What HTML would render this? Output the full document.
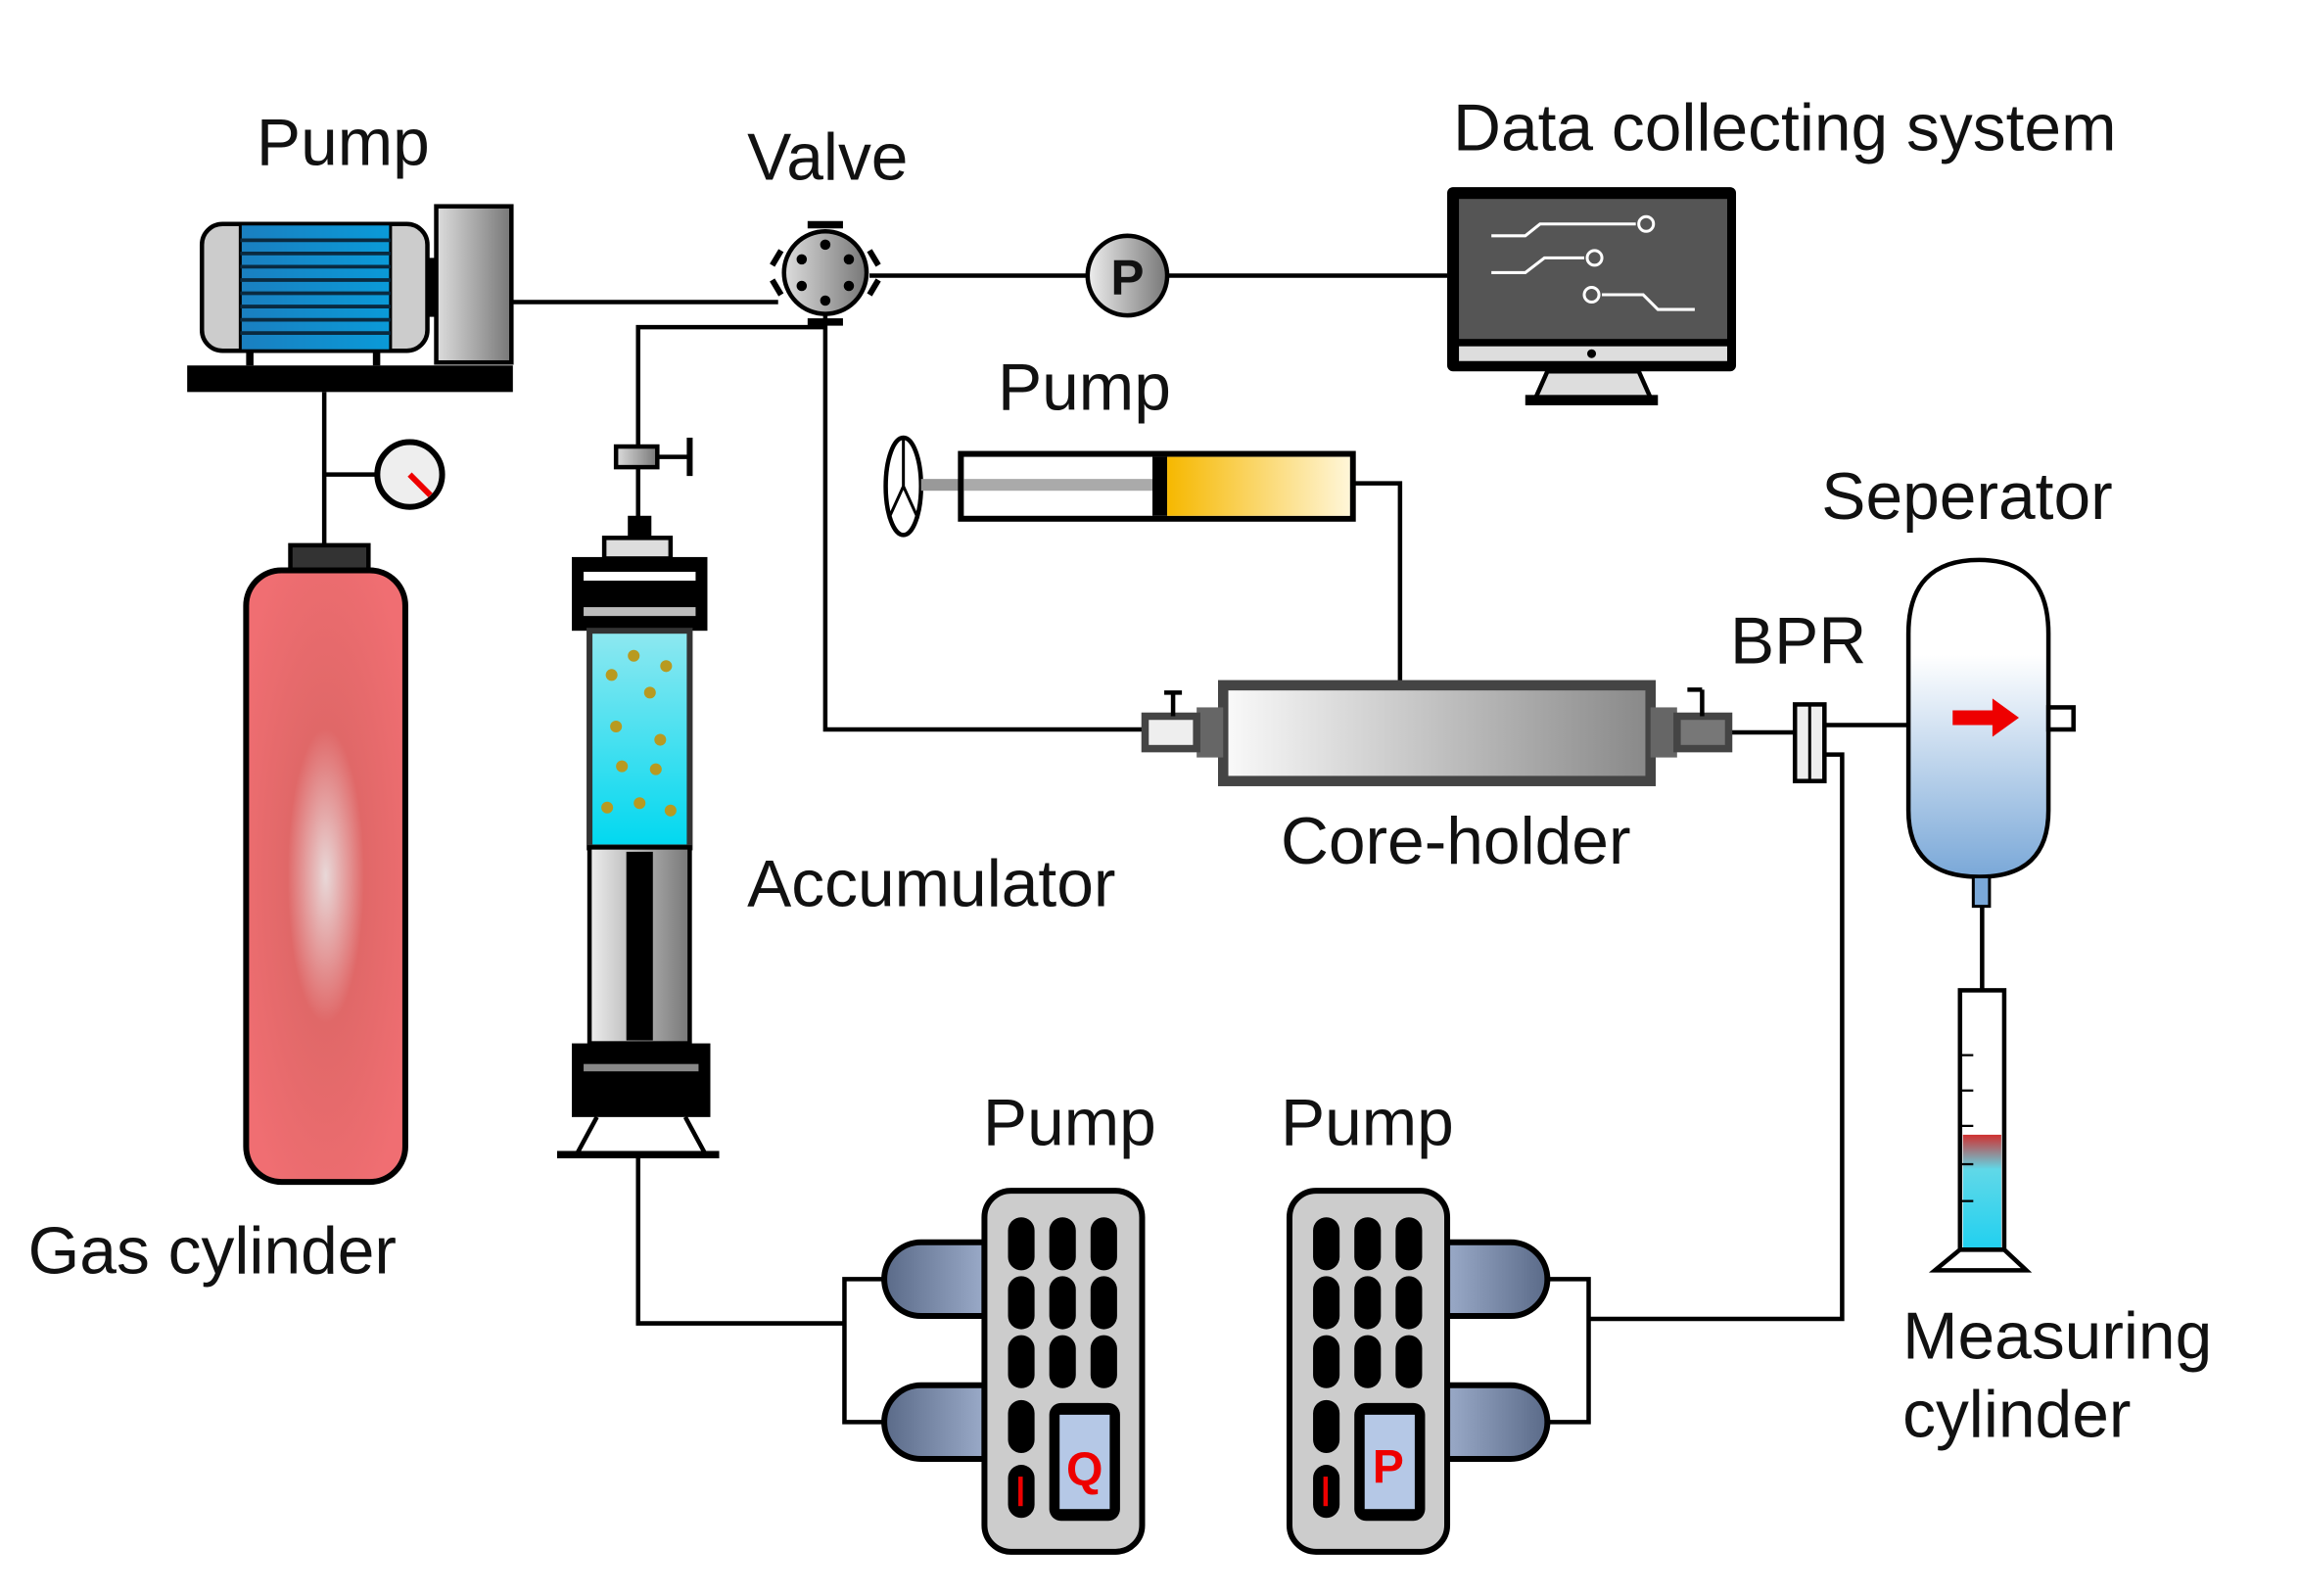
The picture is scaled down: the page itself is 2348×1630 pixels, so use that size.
<!DOCTYPE html>
<html><head><meta charset="utf-8"><style>
html,body{margin:0;padding:0;background:#fff;}
svg{display:block;}
text{font-family:"Liberation Sans",Arial,sans-serif;fill:#111;}
</style></head><body>
<svg width="2348" height="1630" viewBox="0 0 1560 1083" xmlns="http://www.w3.org/2000/svg">
<defs>
<linearGradient id="gray" x1="0" x2="1"><stop offset="0" stop-color="#ddd"/><stop offset="1" stop-color="#777"/></linearGradient>
<linearGradient id="core" x1="0" x2="1"><stop offset="0" stop-color="#fafafa"/><stop offset="1" stop-color="#888"/></linearGradient>
<linearGradient id="blue" x1="0" x2="1"><stop offset="0" stop-color="#1a7fc0"/><stop offset="1" stop-color="#0a9ad8"/></linearGradient>
<linearGradient id="cyan" x1="0" y1="0" x2="0" y2="1"><stop offset="0" stop-color="#8fe8f0"/><stop offset="1" stop-color="#00d8f0"/></linearGradient>
<linearGradient id="sep" x1="0" y1="0" x2="0" y2="1"><stop offset="0.3" stop-color="#fff"/><stop offset="1" stop-color="#7aa8d8"/></linearGradient>
<linearGradient id="yel" x1="0" x2="1"><stop offset="0" stop-color="#f6b800"/><stop offset="1" stop-color="#fff6d8"/></linearGradient>
<linearGradient id="arm" x1="0" x2="1"><stop offset="0" stop-color="#5a6a88"/><stop offset="1" stop-color="#9aaac8"/></linearGradient>
<linearGradient id="arm2" x1="1" x2="0"><stop offset="0" stop-color="#5a6a88"/><stop offset="1" stop-color="#9aaac8"/></linearGradient>
<linearGradient id="rod" x1="0" x2="1"><stop offset="0" stop-color="#eee"/><stop offset="1" stop-color="#777"/></linearGradient>
<radialGradient id="gas" cx="0.5" cy="0.5" r="0.6"><stop offset="0" stop-color="#e8d8d8"/><stop offset="0.4" stop-color="#e06868"/><stop offset="1" stop-color="#f06e72"/></radialGradient>
<linearGradient id="mc" x1="0" y1="0" x2="0" y2="1"><stop offset="0" stop-color="#d03030"/><stop offset="0.3" stop-color="#60d8e8"/><stop offset="1" stop-color="#20d0f0"/></linearGradient>
</defs>
<g stroke="#000" stroke-width="3" fill="none">
<polyline points="347,205 528,205"/>
<polyline points="590,187 738,187"/>
<polyline points="792,187 982,187"/>
<polyline points="433,303 433,222 560,222"/>
<polyline points="560,212 560,495 778,495"/>
<polyline points="433,318 433,352"/>
<polyline points="918,328 950,328 950,465"/>
<polyline points="220,266 220,372"/>
<polyline points="220,322 256,322"/>
<polyline points="1172,497 1218,497"/>
<polyline points="1238,492 1295,492"/>
<polyline points="1238,512 1250,512 1250,895 1078,895"/>
<polyline points="1048,868 1078,868 1078,965 1048,965"/>
<polyline points="433,785 433,898 573,898"/>
<polyline points="600,868 573,868 573,965 600,965"/>
<polyline points="1345,615 1345,700"/>
</g>
<rect x="137" y="152" width="153" height="86" rx="14" fill="#ccc" stroke="#000" stroke-width="3"/>
<rect x="163" y="152" width="102" height="86" fill="url(#blue)" stroke="#000" stroke-width="2"/>
<g stroke="#0a2a40" stroke-width="2.5">
<line x1="163" y1="163" x2="265" y2="163"/><line x1="163" y1="172" x2="265" y2="172"/><line x1="163" y1="181" x2="265" y2="181"/><line x1="163" y1="190" x2="265" y2="190"/><line x1="163" y1="199" x2="265" y2="199"/><line x1="163" y1="208" x2="265" y2="208"/><line x1="163" y1="217" x2="265" y2="217"/><line x1="163" y1="226" x2="265" y2="226"/></g>
<rect x="290" y="175" width="6" height="40" fill="#000"/>
<rect x="296" y="140" width="51" height="106" fill="url(#gray)" stroke="#000" stroke-width="3"/>
<rect x="127" y="248" width="221" height="18" fill="#000"/>
<rect x="167" y="238" width="5" height="10" fill="#000"/><rect x="253" y="238" width="5" height="10" fill="#000"/>
<circle cx="278" cy="322" r="22" fill="#eee" stroke="#000" stroke-width="4"/>
<line x1="278" y1="322" x2="292" y2="336" stroke="#e00" stroke-width="4"/>
<rect x="197" y="370" width="53" height="18" fill="#333" stroke="#000" stroke-width="3"/>
<rect x="167" y="387" width="108" height="415" rx="24" fill="url(#gas)" stroke="#000" stroke-width="4"/>
<circle cx="560" cy="185" r="28" fill="url(#gray)" stroke="#000" stroke-width="3"/>
<g fill="#000"><circle cx="560" cy="166" r="3.5"/><circle cx="560" cy="204" r="3.5"/><circle cx="544" cy="176" r="3.5"/><circle cx="576" cy="176" r="3.5"/><circle cx="544" cy="194" r="3.5"/><circle cx="576" cy="194" r="3.5"/></g>
<rect x="548" y="150" width="24" height="5" fill="#000"/>
<path d="M530 170 L524 180 M590 170 L596 180 M530 200 L524 190 M590 200 L596 190" stroke="#000" stroke-width="4"/>
<rect x="548" y="216" width="24" height="5" fill="#000"/>
<circle cx="765" cy="187" r="27" fill="url(#rod)" stroke="#000" stroke-width="3"/>
<text x="765" y="200" font-size="34" font-weight="bold" text-anchor="middle">P</text>
<rect x="982" y="127" width="196" height="125" rx="4" fill="#000"/>
<rect x="990" y="135" width="182" height="95" fill="#555"/>
<rect x="990" y="235" width="182" height="10" fill="#ddd"/>
<circle cx="1080" cy="240" r="3" fill="#000"/>
<path d="M1050 252 L1112 252 L1120 270 L1042 270 Z" fill="#ddd" stroke="#000" stroke-width="3"/>
<rect x="1035" y="268" width="90" height="7" fill="#000"/>
<g stroke="#fff" stroke-width="2" fill="none">
<polyline points="1012,160 1035,160 1045,152 1110,152"/><circle cx="1117" cy="152" r="5"/>
<polyline points="1012,185 1035,185 1048,175 1075,175"/><circle cx="1082" cy="175" r="5"/>
<circle cx="1080" cy="200" r="5"/><polyline points="1087,200 1115,200 1125,210 1150,210"/></g>
<rect x="418" y="303" width="28" height="14" fill="url(#gray)" stroke="#000" stroke-width="3"/>
<line x1="446" y1="310" x2="468" y2="310" stroke="#000" stroke-width="3"/><line x1="468" y1="297" x2="468" y2="323" stroke="#000" stroke-width="4"/>
<rect x="426" y="350" width="16" height="16" fill="#000"/>
<rect x="410" y="365" width="45" height="14" fill="#ddd" stroke="#000" stroke-width="3"/>
<rect x="388" y="378" width="92" height="50" fill="#000"/>
<rect x="396" y="388" width="76" height="6" fill="#fff"/><rect x="396" y="412" width="76" height="6" fill="#bbb"/>
<rect x="400" y="428" width="68" height="147" fill="url(#cyan)" stroke="#333" stroke-width="4"/>
<g fill="#b89a20"><circle cx="430" cy="445" r="4"/><circle cx="452" cy="452" r="4"/><circle cx="415" cy="458" r="4"/><circle cx="441" cy="470" r="4"/><circle cx="418" cy="493" r="4"/><circle cx="448" cy="502" r="4"/><circle cx="422" cy="520" r="4"/><circle cx="445" cy="522" r="4"/><circle cx="434" cy="545" r="4"/><circle cx="455" cy="550" r="4"/><circle cx="412" cy="548" r="4"/></g>
<rect x="400" y="575" width="68" height="133" fill="url(#rod)" stroke="#000" stroke-width="3"/>
<rect x="425" y="578" width="18" height="128" fill="#000"/>
<rect x="388" y="708" width="94" height="50" fill="#000"/>
<rect x="396" y="722" width="78" height="5" fill="#888"/>
<path d="M405 758 L392 782 M465 758 L478 782" stroke="#000" stroke-width="3"/>
<rect x="378" y="781" width="110" height="5" fill="#000"/>
<ellipse cx="613" cy="330" rx="12" ry="33" fill="#fff" stroke="#000" stroke-width="3"/>
<path d="M613 297 L613 330 L603 352 M613 330 L623 352" stroke="#000" stroke-width="2" fill="none"/>
<rect x="625" y="325" width="160" height="8" fill="#999"/>
<rect x="652" y="308" width="266" height="44" fill="#fff" stroke="#000" stroke-width="4"/>
<rect x="654" y="325" width="128" height="8" fill="#aaa"/>
<rect x="782" y="310" width="10" height="40" fill="#000"/>
<rect x="792" y="310" width="124" height="40" fill="url(#yel)"/>
<rect x="830" y="465" width="290" height="65" fill="url(#core)" stroke="#444" stroke-width="7"/>
<rect x="812" y="480" width="18" height="34" fill="#666"/>
<rect x="777" y="486" width="35" height="22" fill="#eee" stroke="#444" stroke-width="5"/>
<path d="M790 470 L802 470 M796 470 L796 486" stroke="#000" stroke-width="3"/>
<rect x="1120" y="480" width="18" height="34" fill="#666"/>
<rect x="1138" y="486" width="35" height="22" fill="#777" stroke="#444" stroke-width="5"/>
<path d="M1145 468 L1155 468 M1155 468 L1155 486" stroke="#000" stroke-width="3"/>
<rect x="1218" y="478" width="20" height="52" fill="#eee" stroke="#000" stroke-width="3"/>
<line x1="1228" y1="478" x2="1228" y2="530" stroke="#000" stroke-width="2"/>
<path d="M1295 430 Q1295 380 1343 380 Q1390 380 1390 430 L1390 550 Q1390 595 1343 595 Q1295 595 1295 550 Z" fill="url(#sep)" stroke="#000" stroke-width="3"/>
<rect x="1390" y="480" width="17" height="15" fill="#fff" stroke="#000" stroke-width="3"/>
<path d="M1325 482 L1352 482 L1352 474 L1370 487 L1352 500 L1352 492 L1325 492 Z" fill="#e00"/>
<rect x="1339" y="595" width="11" height="20" fill="#7aa8d8" stroke="#000" stroke-width="2"/>
<rect x="1330" y="672" width="30" height="176" fill="#fff" stroke="#000" stroke-width="3"/>
<rect x="1332" y="770" width="26" height="78" fill="url(#mc)"/>
<g stroke="#000" stroke-width="1.5"><line x1="1331" y1="716" x2="1339" y2="716"/><line x1="1331" y1="740" x2="1339" y2="740"/><line x1="1331" y1="764" x2="1339" y2="764"/><line x1="1331" y1="790" x2="1339" y2="790"/><line x1="1331" y1="815" x2="1339" y2="815"/></g>
<path d="M1330 848 L1360 848 L1375 862 L1313 862 Z" fill="#fff" stroke="#000" stroke-width="3"/>
<path d="M668 843 L625 843 A25 25 0 0 0 625 893 L668 893 Z" fill="url(#arm)" stroke="#000" stroke-width="4"/>
<path d="M668 940 L625 940 A25 25 0 0 0 625 990 L668 990 Z" fill="url(#arm)" stroke="#000" stroke-width="4"/>
<rect x="668" y="808" width="107" height="245" rx="18" fill="#ccc" stroke="#000" stroke-width="4"/>
<g fill="#000">
<rect x="684" y="826" width="18" height="36" rx="9"/><rect x="712" y="826" width="18" height="36" rx="9"/><rect x="740" y="826" width="18" height="36" rx="9"/>
<rect x="684" y="866" width="18" height="36" rx="9"/><rect x="712" y="866" width="18" height="36" rx="9"/><rect x="740" y="866" width="18" height="36" rx="9"/>
<rect x="684" y="906" width="18" height="36" rx="9"/><rect x="712" y="906" width="18" height="36" rx="9"/><rect x="740" y="906" width="18" height="36" rx="9"/>
<rect x="684" y="950" width="18" height="36" rx="9"/><rect x="684" y="994" width="18" height="36" rx="9"/>
<rect x="712" y="952" width="48" height="80" rx="8"/></g>
<rect x="719" y="960" width="34" height="64" fill="#b5c8e6"/>
<rect x="691" y="1002" width="3" height="20" fill="#e00"/>
<text x="736" y="1008" font-size="32" font-weight="bold" style="fill:#e00" text-anchor="middle">Q</text>
<path d="M982 843 L1025 843 A25 25 0 0 1 1025 893 L982 893 Z" fill="url(#arm2)" stroke="#000" stroke-width="4"/>
<path d="M982 940 L1025 940 A25 25 0 0 1 1025 990 L982 990 Z" fill="url(#arm2)" stroke="#000" stroke-width="4"/>
<rect x="875" y="808" width="107" height="245" rx="18" fill="#ccc" stroke="#000" stroke-width="4"/>
<g fill="#000">
<rect x="891" y="826" width="18" height="36" rx="9"/><rect x="919" y="826" width="18" height="36" rx="9"/><rect x="947" y="826" width="18" height="36" rx="9"/>
<rect x="891" y="866" width="18" height="36" rx="9"/><rect x="919" y="866" width="18" height="36" rx="9"/><rect x="947" y="866" width="18" height="36" rx="9"/>
<rect x="891" y="906" width="18" height="36" rx="9"/><rect x="919" y="906" width="18" height="36" rx="9"/><rect x="947" y="906" width="18" height="36" rx="9"/>
<rect x="891" y="950" width="18" height="36" rx="9"/><rect x="891" y="994" width="18" height="36" rx="9"/>
<rect x="919" y="952" width="48" height="80" rx="8"/></g>
<rect x="926" y="960" width="34" height="64" fill="#b5c8e6"/>
<rect x="898" y="1002" width="3" height="20" fill="#e00"/>
<text x="942" y="1006" font-size="32" font-weight="bold" style="fill:#e00" text-anchor="middle">P</text>
<g font-size="45">
<text x="174" y="112">Pump</text>
<text x="507" y="122">Valve</text>
<text x="986" y="102">Data collecting system</text>
<text x="677" y="278">Pump</text>
<text x="1236" y="352">Seperator</text>
<text x="1174" y="450">BPR</text>
<text x="869" y="586">Core-holder</text>
<text x="507" y="615">Accumulator</text>
<text x="19" y="864">Gas cylinder</text>
<text x="667" y="777">Pump</text>
<text x="869" y="777">Pump</text>
<text x="1291" y="922">Measuring</text>
<text x="1291" y="975">cylinder</text>
</g>
</svg>
</body></html>
